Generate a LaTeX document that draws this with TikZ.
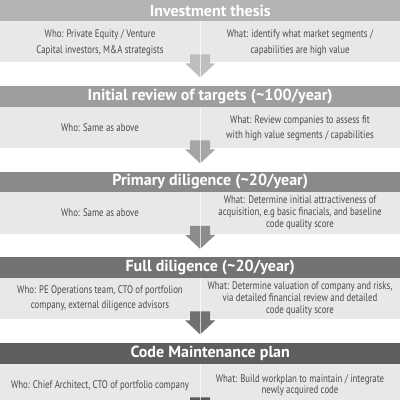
\documentclass[tikz,border=0pt]{standalone}
\usepackage{fontspec}
\setmainfont{PT Sans}
\newfontfamily\bodyfont[FakeStretch=0.80]{PT Sans}
\newfontfamily\headfont{PT Sans}
\usetikzlibrary{calc}

\definecolor{bandgray}{HTML}{E8E8E8}
\definecolor{bodytext}{HTML}{4A4A4A}
\definecolor{hA}{HTML}{B4B4B6}
\definecolor{hB}{HTML}{9E9EA0}
\definecolor{hC}{HTML}{8A8A8C}
\definecolor{hD}{HTML}{737375}
\definecolor{hE}{HTML}{5E5E60}
\definecolor{aA}{HTML}{BEBEBE}
\definecolor{aB}{HTML}{A6A6A6}
\definecolor{aC}{HTML}{8C8C8C}
\definecolor{aD}{HTML}{717171}
\definecolor{aE}{HTML}{5A5A5A}

\tikzset{
  header/.style={fill=#1, minimum width=400pt, minimum height=20.5pt,
    inner sep=0pt, anchor=north west},
  headtext/.style={text=white, inner sep=0pt,
    font=\headfont\bfseries\fontsize{16}{19}\selectfont},
  band/.style={fill=bandgray, minimum width=400pt, minimum height=41.5pt,
    inner sep=0pt, anchor=north west},
  info/.style={text=bodytext, align=center, inner sep=0pt,
    font=\bodyfont\fontsize{11}{#1}\selectfont},
  info/.default=15,
  divider/.style={draw=white, line width=0.9pt, opacity=0.7},
  blockarrow/.style={fill=#1, draw=none}
}

\begin{document}
\begin{tikzpicture}[x=1pt, y=-1pt]
\useasboundingbox (0,0) rectangle (400,400);
\fill[white] (0,0) rectangle (400,400);

% bands first, so arrows and headers lie on top
\foreach \n/\t in {1/0, 2/86, 3/171.5, 4/257, 5/343} {
  \node[band] (b\n) at (0,\t+20.5) {};
}

% divider between "who" and "what"
\foreach \n in {1,...,5} {
  \coordinate (d\n) at ($(b\n.north)$);
}

% block arrows between stages
\foreach \n/\c in {1/aA, 2/aB, 3/aC, 4/aD, 5/aE} {
  \fill[blockarrow=\c]
    ($(b\n.south)+(-10,-8)$) -- ($(b\n.south)+(10,-8)$) --
    ($(b\n.south)+(10,1)$) -- ($(b\n.south)+(15,1)$) --
    ($(b\n.south)+(0,15)$) -- ($(b\n.south)+(-15,1)$) --
    ($(b\n.south)+(-10,1)$) -- cycle;
  \draw[divider] (d\n) -- ($(b\n.south)+(0,24)$);
}

% stage headers
\node[header=hA] (h1) at (0,0)     {};
\node[header=hB] (h2) at (0,86)    {};
\node[header=hC] (h3) at (0,171.5) {};
\node[header=hD] (h4) at (0,257)   {};
\node[header=hE] (h5) at (0,343)   {};

\node[headtext] (t1) at ($(h1.center)+(10,0)$) {Investment thesis};
\node[headtext] (t2) at ($(h2.center)+(10,0)$) {Initial review of targets (\textasciitilde 100/year)};
\node[headtext] (t3) at ($(h3.center)+(10,0)$) {Primary diligence (\textasciitilde 20/year)};
\node[headtext] (t4) at ($(h4.center)+(10,0)$) {Full diligence (\textasciitilde 20/year)};
\node[headtext] (t5) at ($(h5.center)+(10,0)$) {Code Maintenance plan};

% who / what texts
\node[info=15.7] (w1) at (100,43) {Who: Private Equity / Venture\\Capital investors, M\&A strategists};
\node[info=15.7] (x1) at (300,43) {What: identify what market segments /\\capabilities are high value};

\node[info] (w2) at (100,128) {Who: Same as above};
\node[info] (x2) at (300,128) {What: Review companies to assess fit\\with high value segments / capabilities};

\node[info] (w3) at (100,213) {Who: Same as above};
\node[info=12.2] (x3) at (300,213) {What: Determine initial attractiveness of\\acquisition, e.g basic finacials, and baseline\\code quality score};

\node[info] (w4) at (100,298) {Who: PE Operations team, CTO of portfolion\\company, external diligence advisors};
\node[info=12.2] (x4) at (300,299) {What: Determine valuation of company and risks,\\via detailed financial review and detailed\\code quality score};

\node[info] (w5) at (100,386) {Who: Chief Architect, CTO of portfolio company};
\node[info=11.5] (x5) at (300,385) {What: Build workplan to maintain / integrate\\newly acquired code};
\end{tikzpicture}
\end{document}
